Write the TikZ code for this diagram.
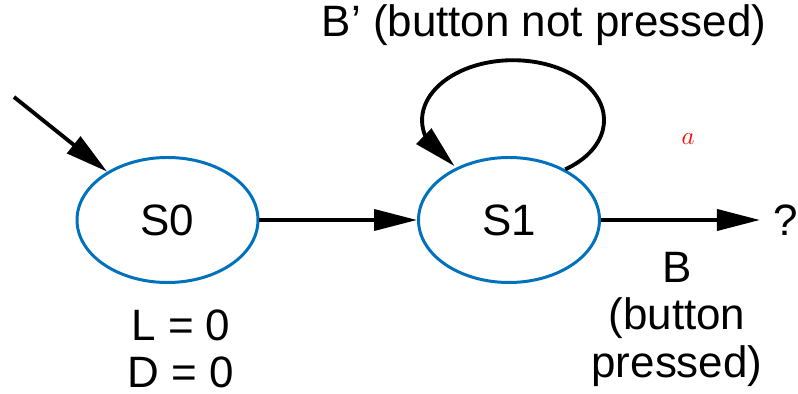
\documentclass[tikz,border=0pt]{standalone}
\usepackage{fontspec}
\setmainfont{Liberation Sans}
\usetikzlibrary{arrows.meta,bending,shapes.geometric}
\definecolor{stateblue}{RGB}{0,114,189}
\tikzset{
  state/.style={ellipse, draw=stateblue, line width=1.7pt, minimum width=3.62cm, minimum height=2.5cm, inner sep=0pt},
  trans/.style={-{Triangle[length=0.86cm, width=0.42cm, flex]}, line width=2.2pt},
  lbl/.style={font=\fontsize{25}{27}\selectfont, align=center},
}

\begin{document}
\begin{tikzpicture}
  \useasboundingbox (0,0) rectangle (15.96,7.88);

  % States
  \node[state, lbl] (s0) at (3.35,3.48) {S0};
  \node[state, lbl] (s1) at (10.18,3.48) {S1};

  % Reset arrow
  \coordinate (start) at (0.28,5.94);
  \draw[trans] (start) -- (s0);

  % Transitions
  \draw[trans] (s0) -- (s1);
  \draw[trans] (s1.42) arc[start angle=-55, end angle=230, x radius=1.82cm, y radius=1.2cm];

  \node[lbl, inner sep=0.26cm] (q) at (15.71,3.48) {?};
  \draw[trans] (s1) -- (q);

  % Labels
  \node[lbl, anchor=base] (loop) at (10.88,7.14) {B’ (button not pressed)};
  \node[lbl] (press) at (13.54,1.5) {B\\(button\\pressed)};
  \node[lbl] (outs) at (3.62,0.9) {L = 0\\D = 0};
  \node[text=red, font=\fontsize{15}{17}\selectfont] (a) at (13.76,5.10) {$a$};
\end{tikzpicture}
\end{document}
